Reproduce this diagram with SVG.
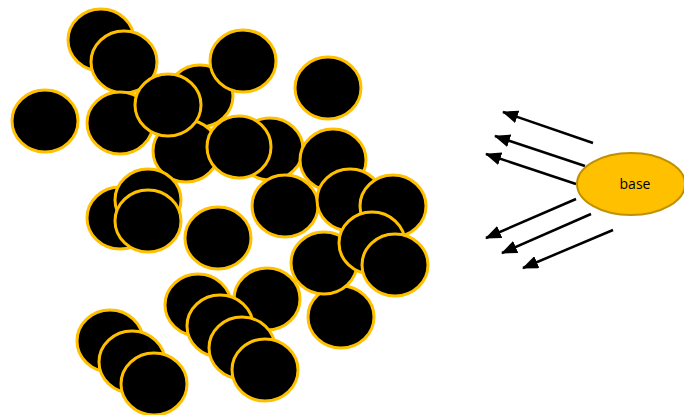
<svg xmlns="http://www.w3.org/2000/svg" width="684" height="415" viewBox="0 0 684 415">
<style>
.p{fill:#000;stroke:#FFC000;stroke-width:3}
.a{stroke:#000;stroke-width:2.5;fill:none;marker-end:url(#ah)}
.b{fill:#FFC000;stroke:#BF9000;stroke-width:2}
.t{font-family:"Open Sans","Liberation Sans",sans-serif;font-size:14px;fill:#000;text-anchor:middle}
</style>
<defs>
<marker id="ah" markerUnits="userSpaceOnUse" markerWidth="16" markerHeight="13" refX="15" refY="6.5" orient="auto">
<path d="M0,0 L16,6.5 L0,13 z" fill="#000"/>
</marker>
</defs>
<rect width="684" height="415" fill="#fff"/>
<g id="particles">
<ellipse id="p1" class="p" cx="101" cy="40" rx="33" ry="31"/>
<ellipse id="p2" class="p" cx="124" cy="62" rx="33" ry="31"/>
<ellipse id="p3" class="p" cx="45" cy="121" rx="33" ry="31"/>
<ellipse id="p4" class="p" cx="120" cy="123" rx="33" ry="31"/>
<ellipse id="p5" class="p" cx="200" cy="96" rx="33" ry="31"/>
<ellipse id="p6" class="p" cx="243" cy="61" rx="33" ry="31"/>
<ellipse id="p7" class="p" cx="186" cy="151" rx="33" ry="31"/>
<ellipse id="p8" class="p" cx="168" cy="105" rx="33" ry="31"/>
<ellipse id="p9" class="p" cx="328" cy="88" rx="33" ry="31"/>
<ellipse id="p10" class="p" cx="270" cy="149" rx="33" ry="31"/>
<ellipse id="p11" class="p" cx="239" cy="147" rx="32" ry="31"/>
<ellipse id="p12" class="p" cx="333" cy="160" rx="33" ry="31"/>
<ellipse id="p13" class="p" cx="285" cy="206" rx="33" ry="31"/>
<ellipse id="p14" class="p" cx="350" cy="200" rx="33" ry="31"/>
<ellipse id="p15" class="p" cx="393" cy="206" rx="33" ry="31"/>
<ellipse id="p16" class="p" cx="341" cy="317" rx="33" ry="31"/>
<ellipse id="p17" class="p" cx="324" cy="263" rx="33" ry="31"/>
<ellipse id="p18" class="p" cx="372" cy="243" rx="33" ry="31"/>
<ellipse id="p19" class="p" cx="395" cy="265" rx="33" ry="31"/>
<ellipse id="p20" class="p" cx="120" cy="218" rx="33" ry="31"/>
<ellipse id="p21" class="p" cx="148" cy="200" rx="33" ry="31"/>
<ellipse id="p22" class="p" cx="148" cy="221" rx="33" ry="31"/>
<ellipse id="p23" class="p" cx="218" cy="238" rx="33" ry="31"/>
<ellipse id="p24" class="p" cx="198" cy="305" rx="33" ry="31"/>
<ellipse id="p25" class="p" cx="267" cy="299" rx="33" ry="31"/>
<ellipse id="p26" class="p" cx="220" cy="326" rx="33" ry="31"/>
<ellipse id="p27" class="p" cx="242" cy="348" rx="33" ry="31"/>
<ellipse id="p28" class="p" cx="265" cy="370" rx="33" ry="31"/>
<ellipse id="p29" class="p" cx="110" cy="341" rx="33" ry="31"/>
<ellipse id="p30" class="p" cx="132" cy="362" rx="33" ry="31"/>
<ellipse id="p31" class="p" cx="154" cy="384" rx="33" ry="31"/>
</g>
<g id="connectors">
<line class="a" x1="593" y1="143" x2="503" y2="112"/>
<line class="a" x1="585" y1="166" x2="495" y2="136"/>
<line class="a" x1="576" y1="184" x2="486" y2="154"/>
<line class="a" x1="576" y1="199" x2="486" y2="238"/>
<line class="a" x1="591" y1="214" x2="502" y2="253"/>
<line class="a" x1="613" y1="230" x2="523" y2="268"/>
</g>
<g id="base">
<ellipse class="b" cx="631" cy="184" rx="54" ry="31"/>
<text class="t" x="635" y="189">base</text>
</g>
</svg>
